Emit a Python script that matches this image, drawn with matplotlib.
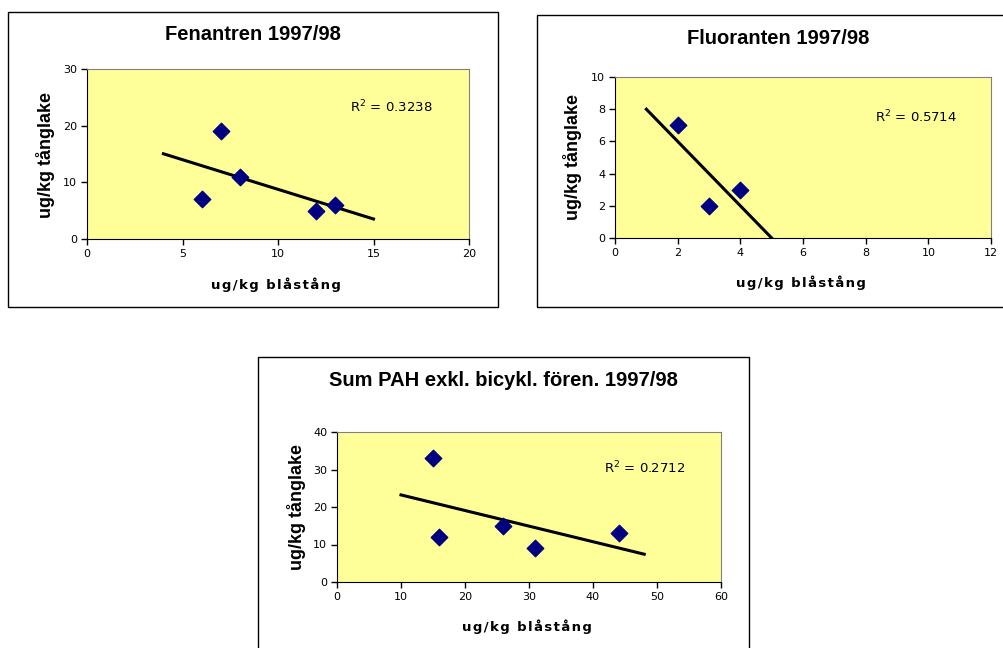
import numpy as np
import matplotlib
matplotlib.use("Agg")
import matplotlib.pyplot as plt
from matplotlib.patches import Rectangle

W, H = 1004, 648

# data
fen_x = [6, 7, 8, 12, 13]
fen_y = [7, 19, 11, 5, 6]
fen_trend = [4, 15]

flu_x = [2, 3, 4]
flu_y = [7, 2, 3]
flu_trend = [1, 5]

pah_x = [15, 16, 26, 31, 44]
pah_y = [33, 12, 15, 9, 13]
pah_trend = [10, 48]

titles = ["Fenantren 1997/98", "Fluoranten 1997/98", "Sum PAH exkl. bicykl. fören. 1997/98"]
xlabel = "\u200a".join("ug/kg blåstång")
ylabel = "ug/kg tånglake"

fig = plt.figure(figsize=(W / 100, H / 100), dpi=100)
fig.patch.set_facecolor("white")


def fx(x):
    return x / W


def fy(y):
    return 1 - y / H


def chart(box, area, x, y, trend, xlim, xstep, ylim, ystep, title, title_y, r2_pos, xl_y, yl_x):
    # outer chart frame
    bx0, by0, bx1, by1 = box
    fig.patches.append(Rectangle((fx(bx0), fy(by1)), fx(bx1 - bx0), (by1 - by0) / H,
                                 transform=fig.transFigure, fill=False, edgecolor="black", lw=1))
    x0, y0, x1, y1 = area
    ax = fig.add_axes([fx(x0), fy(y1), fx(x1 - x0), (y1 - y0) / H])
    ax.set_facecolor("#ffff99")
    ax.scatter(x, y, marker="D", s=70, color="#000080", zorder=3)
    k, b = np.polyfit(x, y, 1)
    tx = np.array(trend, dtype=float)
    ty = k * tx + b
    ax.plot(tx, ty, color="black", lw=2.2, zorder=2)
    r2 = np.corrcoef(x, y)[0, 1] ** 2
    ax.set_xlim(*xlim)
    ax.set_ylim(*ylim)
    ax.set_xticks(np.arange(xlim[0], xlim[1] + 0.1, xstep))
    ax.set_yticks(np.arange(ylim[0], ylim[1] + 0.1, ystep))
    ax.tick_params(labelsize=8, length=4, width=1, pad=3)
    for s in ["top", "right"]:
        ax.spines[s].set_color("#808080")
    for s in ["left", "bottom"]:
        ax.spines[s].set_color("black")
    # title is centred on the chart frame
    fig.text(fx((bx0 + bx1) / 2), fy(title_y), title, ha="center", va="center",
             fontsize=14.5, fontweight="bold", family="Liberation Sans")
    fig.text(fx(r2_pos[0]), fy(r2_pos[1]), "R$^2$ = %.4f" % r2, ha="left", va="center",
             fontsize=9.5)
    fig.text(fx(xl_y[0]), fy(xl_y[1]), xlabel, ha="center", va="center",
             fontsize=9.5, fontweight="bold")
    fig.text(fx(yl_x[0]), fy(yl_x[1]), ylabel, ha="center", va="center", rotation=90,
             fontsize=13, fontweight="bold", family="Liberation Sans")
    return ax


chart((8, 12, 498, 307), (87, 69, 469, 239), fen_x, fen_y, fen_trend,
      (0, 20), 5, (0, 30), 10, titles[0], 35, (350, 107), (276, 285), (46, 155))
chart((537, 15, 1020, 307), (615, 77, 991, 238), flu_x, flu_y, flu_trend,
      (0, 12), 2, (0, 10), 2, titles[1], 38, (875, 117), (801, 283), (573, 157))
chart((258, 357, 749, 660), (337, 432, 721, 582), pah_x, pah_y, pah_trend,
      (0, 60), 10, (0, 40), 10, titles[2], 381, (604, 468), (527, 627), (296, 507))

fig.savefig("out.png", dpi=100)
